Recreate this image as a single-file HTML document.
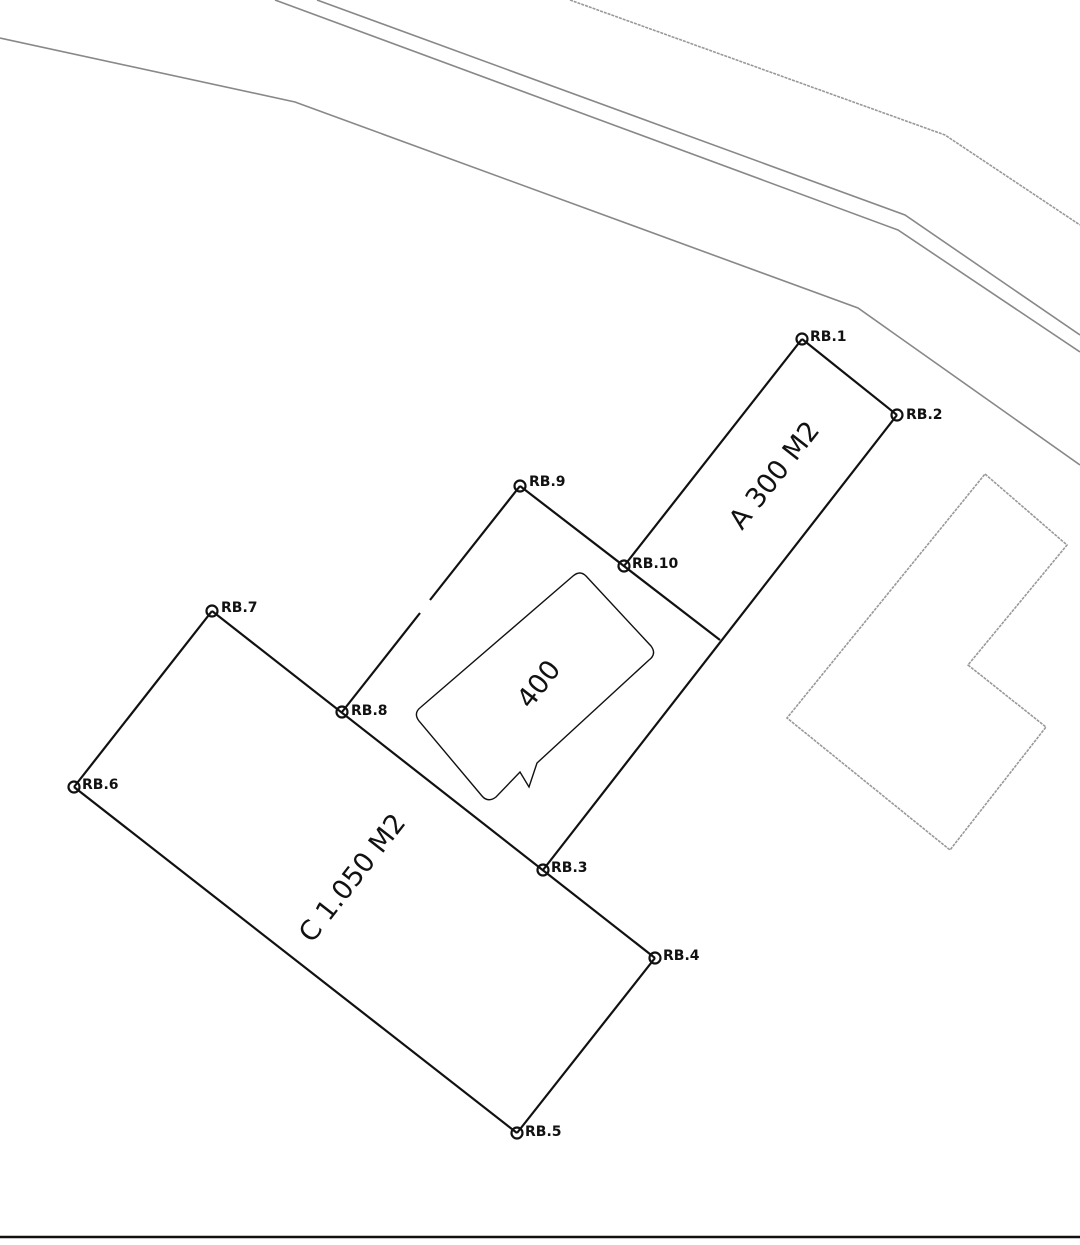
<!DOCTYPE html>
<html><head><meta charset="utf-8"><style>html,body{margin:0;padding:0;background:#fff}svg{display:block}</style></head>
<body>
<svg width="1080" height="1245" viewBox="0 0 1080 1245" xmlns="http://www.w3.org/2000/svg" font-family="'DejaVu Sans','Liberation Sans',sans-serif">
<rect width="1080" height="1245" fill="#fff"/>
<g fill="none" stroke="#888" stroke-width="1.6">
<polyline points="0,38 295,102 858,308 1080,465"/>
<polyline points="317,0 905,215 1080,335"/>
<polyline points="275,0 898,230 1080,352"/>
<polyline points="570,0 945,135 1080,225" stroke-dasharray="3,1" stroke="#999"/>
<polygon points="985,474 1067,545 968,665 1046,727 950,850 787,718" stroke-dasharray="3,1" stroke="#999"/>
</g>
<g fill="none" stroke="#111" stroke-width="2.2">
<line x1="802" y1="339" x2="897" y2="415"/>
<line x1="802" y1="339" x2="624" y2="566"/>
<line x1="897" y1="415" x2="543" y2="870"/>
<line x1="520" y1="486" x2="720" y2="640"/>
<line x1="520" y1="486" x2="430" y2="600"/>
<line x1="420" y1="613" x2="342" y2="712"/>
<line x1="212" y1="611" x2="655" y2="958"/>
<line x1="212" y1="611" x2="74" y2="787"/>
<line x1="74" y1="787" x2="517" y2="1133"/>
<line x1="517" y1="1133" x2="655" y2="958"/>
<path d="M573,576 Q580,570 586,576 L651,646 Q657,654 649,660 L537,763 L529,787 L520,772 L496,797 Q488,803 482,796 L419,721 Q413,713 421,707 Z" stroke-width="1.4"/>
</g>
<g fill="none" stroke="#111" stroke-width="2.2">
<circle cx="802" cy="339" r="5.5"/><circle cx="897" cy="415" r="5.5"/><circle cx="520" cy="486" r="5.5"/>
<circle cx="624" cy="566" r="5.5"/><circle cx="212" cy="611" r="5.5"/><circle cx="342" cy="712" r="5.5"/>
<circle cx="74" cy="787" r="5.5"/><circle cx="543" cy="870" r="5.5"/><circle cx="655" cy="958" r="5.5"/>
<circle cx="517" cy="1133" r="5.5"/>
</g>
<g font-size="14" fill="#111" font-weight="bold">
<text x="810" y="341">RB.1</text><text x="906" y="419">RB.2</text><text x="529" y="486">RB.9</text>
<text x="632" y="568">RB.10</text><text x="221" y="612">RB.7</text><text x="351" y="715">RB.8</text>
<text x="82" y="789">RB.6</text><text x="551" y="872">RB.3</text><text x="663" y="960">RB.4</text>
<text x="525" y="1136">RB.5</text>
</g>
<g font-size="27" fill="#111">
<text transform="translate(742,531) rotate(-52)">A  300 M2</text>
<text transform="translate(530,710) rotate(-52)">400</text>
<text transform="translate(312,944) rotate(-52)">C  1.050 M2</text>
</g>
<line x1="0" y1="1237" x2="1080" y2="1237" stroke="#111" stroke-width="2.5"/>
</svg>
</body></html>
